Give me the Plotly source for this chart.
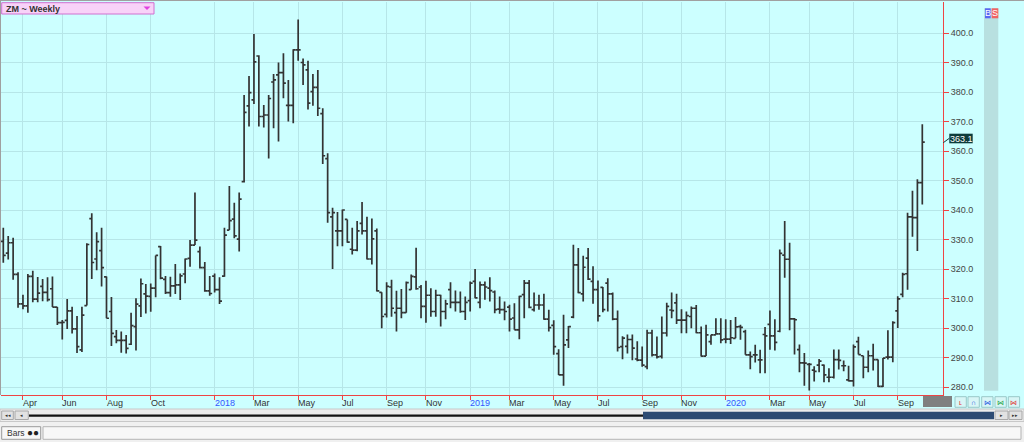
import plotly.graph_objects as go
import pandas as pd

# ---------------- data (weekly OHLC, ZM) ----------------
first_week = "2017-03-10"
opens = [329.5,325.5,329.0,318.3,308.3,307.6,317.6,309.9,314.2,312.2,313.4,307.2,301.9,302.7,305.9,299.8,292.7,307.7,337.2,323.5,
         326.3,317.4,305.7,297.2,295.9,295.9,294.6,300.6,307.6,311.7,310.8,313.6,327.7,316.6,312.1,314.4,314.7,318.4,323.7,328.2,
         326.0,320.6,312.7,317.7,313.1,317.7,333.3,337.0,330.2,349.7,375.4,377.4,392.3,371.8,372.3,383.5,385.9,386.7,375.6,375.6,
         394.4,390.1,387.6,380.2,381.7,372.8,357.5,337.8,333.0,333.0,336.9,326.8,326.5,335.6,333.0,323.5,333.0,312.2,304.7,314.0,
         305.3,306.8,305.3,313.1,317.4,314.0,307.4,311.2,305.7,311.2,305.7,313.1,308.8,308.8,305.7,309.4,315.9,308.8,314.7,313.6,
         312.3,306.5,306.3,307.2,303.5,299.5,311.4,315.3,306.3,307.9,307.9,303.1,301.0,291.4,284.2,296.1,303.8,321.5,311.7,323.8,
         315.9,313.1,313.9,315.3,311.7,303.1,293.8,293.9,296.2,289.6,289.2,287.0,298.4,291.0,290.5,298.4,306.2,308.6,302.8,302.8,
         304.0,306.8,298.5,290.6,295.5,297.8,298.1,296.3,296.3,296.6,300.6,298.9,291.0,291.0,289.3,297.9,301.3,297.4,299.0,324.8,
         323.4,303.2,292.8,288.3,287.8,285.8,287.5,287.5,283.4,283.4,289.4,287.3,282.5,282.2,295.5,290.7,286.8,290.7,289.4,280.3,
         290.2,290.2,305.9,311.5,318.5,337.8,337.5,349.4]
highs = [334.1,331.3,330.7,319.0,311.4,318.4,319.5,317.4,316.7,317.3,317.6,307.2,302.8,309.9,307.3,304.2,307.3,328.8,339.0,332.6,
         334.1,317.6,310.6,299.4,298.9,297.7,305.3,310.2,316.9,315.0,315.2,324.7,327.9,317.7,317.5,321.8,318.6,323.7,329.9,346.0,
         327.7,322.5,317.7,318.6,317.3,334.1,348.2,342.6,346.0,379.1,385.5,399.8,392.6,375.7,379.1,386.2,390.1,393.2,384.2,394.6,
         404.7,391.5,390.7,386.2,387.6,374.6,359.3,340.9,339.4,340.3,336.9,334.1,336.4,342.8,337.8,337.2,333.8,312.2,315.6,316.5,
         312.7,313.3,315.9,318.2,327.3,314.7,316.1,313.6,313.1,311.4,309.7,315.6,312.8,312.5,310.8,315.9,320.1,315.9,315.9,317.3,
         312.8,310.8,309.1,308.0,308.5,311.0,316.4,316.4,312.1,311.4,311.7,306.3,302.7,292.9,304.6,300.8,328.3,327.2,324.6,327.2,
         321.0,316.2,314.0,317.0,312.1,306.0,297.3,297.9,297.9,295.6,293.8,299.5,299.5,297.2,304.0,308.7,312.1,311.7,306.5,305.7,
         307.4,307.9,300.6,301.2,297.8,303.4,303.4,303.1,302.8,303.8,301.2,299.5,292.1,294.4,292.7,300.4,306.0,303.1,326.7,336.4,
         329.0,303.5,294.5,291.6,288.2,287.1,289.6,287.7,286.5,292.8,292.8,289.1,287.3,294.5,297.1,290.7,292.5,294.8,289.4,289.9,
         299.3,302.4,310.9,318.8,339.2,346.6,350.5,369.2]
lows = [322.2,323.3,316.5,307.0,306.5,305.3,308.8,308.8,309.2,309.1,307.2,301.1,296.2,299.8,298.2,291.6,292.0,307.7,316.7,319.7,
        314.2,303.4,294.0,294.9,291.7,291.5,294.3,292.5,303.8,305.0,305.6,310.5,316.6,311.6,310.7,311.6,309.6,315.3,320.9,328.2,
        320.3,312.4,311.0,312.1,308.2,317.5,333.3,330.5,326.0,349.4,368.4,376.0,368.4,368.1,357.6,367.8,363.3,378.0,370.1,369.5,
        390.7,382.5,374.2,375.4,372.0,355.7,335.8,320.1,327.8,327.8,329.0,325.0,326.1,331.8,323.3,321.6,312.5,300.0,303.7,303.9,
        298.9,303.4,305.3,313.1,313.1,303.4,301.9,303.9,303.9,300.6,303.1,306.8,305.7,305.3,302.8,305.7,310.2,306.8,309.7,309.1,
        305.1,304.9,302.7,298.9,299.5,296.3,303.4,306.8,305.7,306.3,302.9,298.9,291.0,284.2,280.5,293.3,303.4,311.9,309.1,316.4,
        308.3,302.3,305.4,305.7,302.7,292.1,289.5,291.5,289.2,288.8,287.0,286.1,290.4,289.8,289.8,297.2,303.4,301.5,298.3,298.3,
        300.0,298.3,290.4,290.6,294.4,297.8,294.9,294.9,294.7,296.6,296.1,291.0,286.1,288.4,284.8,284.8,292.7,292.5,298.7,317.1,
        299.3,291.1,285.1,280.5,278.9,282.0,285.1,281.7,281.7,283.0,286.0,285.4,282.0,280.3,291.1,283.1,285.1,285.7,280.1,280.1,
        289.4,288.5,300.1,310.5,313.1,331.0,326.2,342.0]
closes = [324.7,329.0,318.3,308.3,307.6,317.6,309.9,311.9,312.2,309.7,307.2,301.9,302.0,305.9,299.8,293.8,304.5,328.4,322.3,329.4,
          320.6,303.4,298.3,295.9,295.9,293.2,300.9,308.2,315.1,310.9,313.6,324.7,317.0,312.1,314.4,314.7,317.8,323.5,328.2,329.9,
          320.6,312.7,311.8,313.1,309.2,331.6,336.5,331.3,343.8,373.2,379.9,390.3,371.8,372.3,377.9,384.2,386.7,383.1,375.6,394.4,
          394.4,389.3,376.3,381.7,374.6,358.5,339.2,339.2,333.0,340.1,329.2,326.5,333.0,333.0,323.5,330.3,312.7,304.0,314.2,306.8,
          306.8,305.3,315.5,317.6,313.4,307.4,311.2,305.7,311.2,305.7,308.3,308.8,308.8,305.7,308.8,315.3,310.3,314.7,314.0,312.8,
          306.3,306.3,305.7,303.1,299.5,310.8,315.3,307.1,307.9,307.9,303.1,300.2,293.8,284.2,294.4,300.6,321.5,312.1,320.7,316.7,
          313.1,304.2,306.3,311.7,303.1,293.5,296.7,296.2,293.3,289.2,287.5,298.4,291.0,290.3,298.4,307.4,306.0,302.8,302.8,304.3,
          306.8,298.5,290.6,297.8,297.8,298.1,296.1,296.3,296.8,300.5,300.3,291.0,290.4,291.0,289.3,297.4,297.4,295.2,325.4,323.4,
          303.2,302.9,288.3,288.2,287.8,285.4,288.9,284.2,283.4,289.4,289.1,287.3,282.2,293.7,291.1,286.8,290.7,289.4,280.3,289.9,
          290.2,301.9,310.0,318.3,337.8,337.5,349.4,363.1]
last_label = "363.1"
symbol_title = "ZM ~ Weekly"
price_ticks = [280, 290, 300, 310, 320, 330, 340, 350, 360, 370, 380, 390, 400]
label_months = [(2017, 4), (2017, 6), (2017, 8), (2017, 10), (2018, 1), (2018, 3), (2018, 5), (2018, 7),
                (2018, 9), (2018, 11), (2019, 1), (2019, 3), (2019, 5), (2019, 7), (2019, 9), (2019, 11),
                (2020, 1), (2020, 3), (2020, 5), (2020, 7), (2020, 9)]
month_names = ["Jan", "Feb", "Mar", "Apr", "May", "Jun", "Jul", "Aug", "Sep", "Oct", "Nov", "Dec"]

dates = pd.date_range(first_week, periods=len(opens), freq="7D")

# ---------------- geometry helpers ----------------
W, H = 1024, 442
PL, PR, PT, PB = 1, 943, 2, 395     # plot area in pixels
ppd = (922.3 - 3.3) / ((len(dates) - 1) * 7)   # px per day
x_left = dates[0] - pd.Timedelta(days=(3.3 - PL) / ppd)
x_right = x_left + pd.Timedelta(days=(PR - PL) / ppd)
ppu = 2.95
y_lo = 280 - (PB - 387.3) / ppu
y_hi = 280 + (387.3 - PT) / ppu


def PX(px):
    return (px - PL) / (PR - PL)


def PY(py):
    return (PB - py) / (PB - PT)


RED = "#EE4444"
GRID = "#B6E6E8"
BG = "#CCFFFF"
FONT = "Liberation Sans"

# month tick positions: first weekly bar in each labelled month
tick_dates, tick_text, tick_col = [], [], []
for (yy, mm) in label_months:
    sel = [d for d in dates if d.year == yy and d.month == mm]
    if sel:
        tick_dates.append(sel[0])
        tick_text.append(str(yy) if mm == 1 else month_names[mm - 1])
        tick_col.append("#3355FF" if mm == 1 else "#333333")

fig = go.Figure()
fig.add_trace(go.Ohlc(
    x=dates, open=opens, high=highs, low=lows, close=closes,
    increasing=dict(line=dict(color="#333333", width=1.7)),
    decreasing=dict(line=dict(color="#333333", width=1.7)),
    tickwidth=0.5, hoverinfo="skip", showlegend=False))

shapes = []
ann = []


def rect(x0, y0, x1, y1, fill, line=None, lw=1):
    shapes.append(dict(type="rect", xref="paper", yref="paper",
                       x0=PX(x0), x1=PX(x1), y0=PY(y1), y1=PY(y0),
                       fillcolor=fill, line=dict(color=line or fill, width=lw if line else 0),
                       layer="above"))


def text(x, y, s, size=9, color="#333", xa="left", bold=False):
    ann.append(dict(xref="paper", yref="paper", x=PX(x), y=PY(y), text=("<b>%s</b>" % s) if bold else s,
                    showarrow=False, xanchor=xa, yanchor="middle",
                    font=dict(family=FONT, size=size, color=color)))


# x labels (left aligned at tick)
for d, t, c in zip(tick_dates, tick_text, tick_col):
    ann.append(dict(xref="x", yref="paper", x=d, y=PY(402.7), text=t, showarrow=False,
                    xanchor="left", yanchor="middle", xshift=-2,
                    font=dict(family=FONT, size=9, color=c)))

# frame borders
shapes.append(dict(type="line", xref="paper", yref="paper", x0=PX(0), x1=PX(1024), y0=PY(0.5), y1=PY(0.5),
                   line=dict(color="#A0A0A0", width=1), layer="above"))
shapes.append(dict(type="line", xref="paper", yref="paper", x0=PX(0.5), x1=PX(0.5), y0=PY(0), y1=PY(395),
                   line=dict(color="#A0A0A0", width=1), layer="above"))

# title box
rect(1.7, 2.7, 154, 14, "#F8D2F8", "#D070D0")
text(4, 8.6, symbol_title, size=9, color="#333", bold=True)
shapes.append(dict(type="path", xref="paper", yref="paper",
                   path="M %f,%f L %f,%f L %f,%f Z" % (PX(143.5), PY(6.5), PX(150.5), PY(6.5), PX(147), PY(10)),
                   fillcolor="#E040E0", line=dict(width=0), layer="above"))

# right strip with B / S
rect(984, 8.3, 998.3, 390.7, "#B8E0E0")
rect(985, 8.3, 990.7, 18.3, "#5A66F2")
rect(991.7, 8.3, 998.3, 18.3, "#F06262")
text(987.9, 13.3, "B", size=9, color="white", xa="center")
text(995, 13.3, "S", size=9, color="white", xa="center")

# last price marker
shapes.append(dict(type="line", xref="paper", yref="paper", x0=PX(943.3), y0=PY(142.7), x1=PX(949.3), y1=PY(138.3),
                   line=dict(color="#0E3C3C", width=1), layer="above"))
rect(949.3, 133.7, 972.7, 143.3, "#0E3C3C")
text(961, 138.6, last_label, size=9, color="white", xa="center")

# bottom-right buttons in label row
rect(923, 396, 952, 407, "#808080")
btn_cols = ["#E03030", "#2050E0", "#2050E0", "#20A040", "#E03030"]
btn_glyph = ["ʟ", "∩", "⋈", "⋈", "⋈"]
for i, (bx, c, g) in enumerate(zip([955, 968, 981.7, 995, 1008.3], btn_cols, btn_glyph)):
    rect(bx, 396.7, bx + 11.3, 407.3, "#D8F6F6", "#99C8C8")
    text(bx + 5.6, 402, g, size=7, color=c, xa="center")

# scrollbar row
rect(0, 409, 1024, 421.5, "#EDEDED", "#C8C8C8")
rect(1.7, 411, 13.3, 419.5, "#E2E2E2", "#A8A8A8")
rect(15, 411, 28.3, 419.5, "#E2E2E2", "#A8A8A8")
text(7.5, 415.3, "◂◂", size=5, color="#333", xa="center")
text(21.6, 415.3, "◂", size=5, color="#333", xa="center")
rect(29, 414.5, 645, 416.8, "#141414")
rect(643, 411.7, 994, 419.3, "#2D4B73")
rect(995, 411, 1008, 419.5, "#E2E2E2", "#A8A8A8")
rect(1009, 411, 1022, 419.5, "#E2E2E2", "#A8A8A8")
text(1001.5, 415.3, "▸", size=5, color="#333", xa="center")
text(1015.5, 415.3, "▸▸", size=5, color="#333", xa="center")

# bottom status row
rect(0, 422, 1024, 442, "#F0F0F0")
rect(1.7, 426.7, 40.7, 439.3, "#F7F7F7", "#9A9A9A")
rect(43, 426.7, 1021, 439.3, "#F7F7F7", "#B4B4B4")
text(4.5, 433.2, "Bars", size=8.5, color="#333")
text(33, 432.8, "●●", size=10, color="#222", xa="center")

fig.update_layout(
    width=W, height=H,
    margin=dict(l=PL, r=W - PR, t=PT, b=H - PB, pad=0),
    paper_bgcolor=BG, plot_bgcolor=BG,
    showlegend=False,
    shapes=shapes, annotations=ann,
    xaxis=dict(type="date", range=[x_left, x_right], rangeslider=dict(visible=False),
               tickvals=tick_dates, showticklabels=False,
               ticks="outside", ticklen=4, tickcolor=RED, tickwidth=1,
               showgrid=True, gridcolor=GRID, gridwidth=1,
               showline=True, linecolor=RED, linewidth=1, zeroline=False, fixedrange=True),
    yaxis=dict(side="right", range=[y_lo, y_hi],
               tickvals=price_ticks, ticktext=["%.1f" % v for v in price_ticks],
               ticks="outside", ticklen=5, tickcolor=RED, tickwidth=1,
               tickfont=dict(family=FONT, size=9, color="#444"),
               showgrid=True, gridcolor=GRID, gridwidth=1,
               showline=True, linecolor=RED, linewidth=1, zeroline=False, fixedrange=True),
)

fig.write_html("out.html", config={"displayModeBar": False},
               post_script="document.body.style.margin='0';document.body.style.padding='0';"
                           "document.body.style.overflow='hidden';")
